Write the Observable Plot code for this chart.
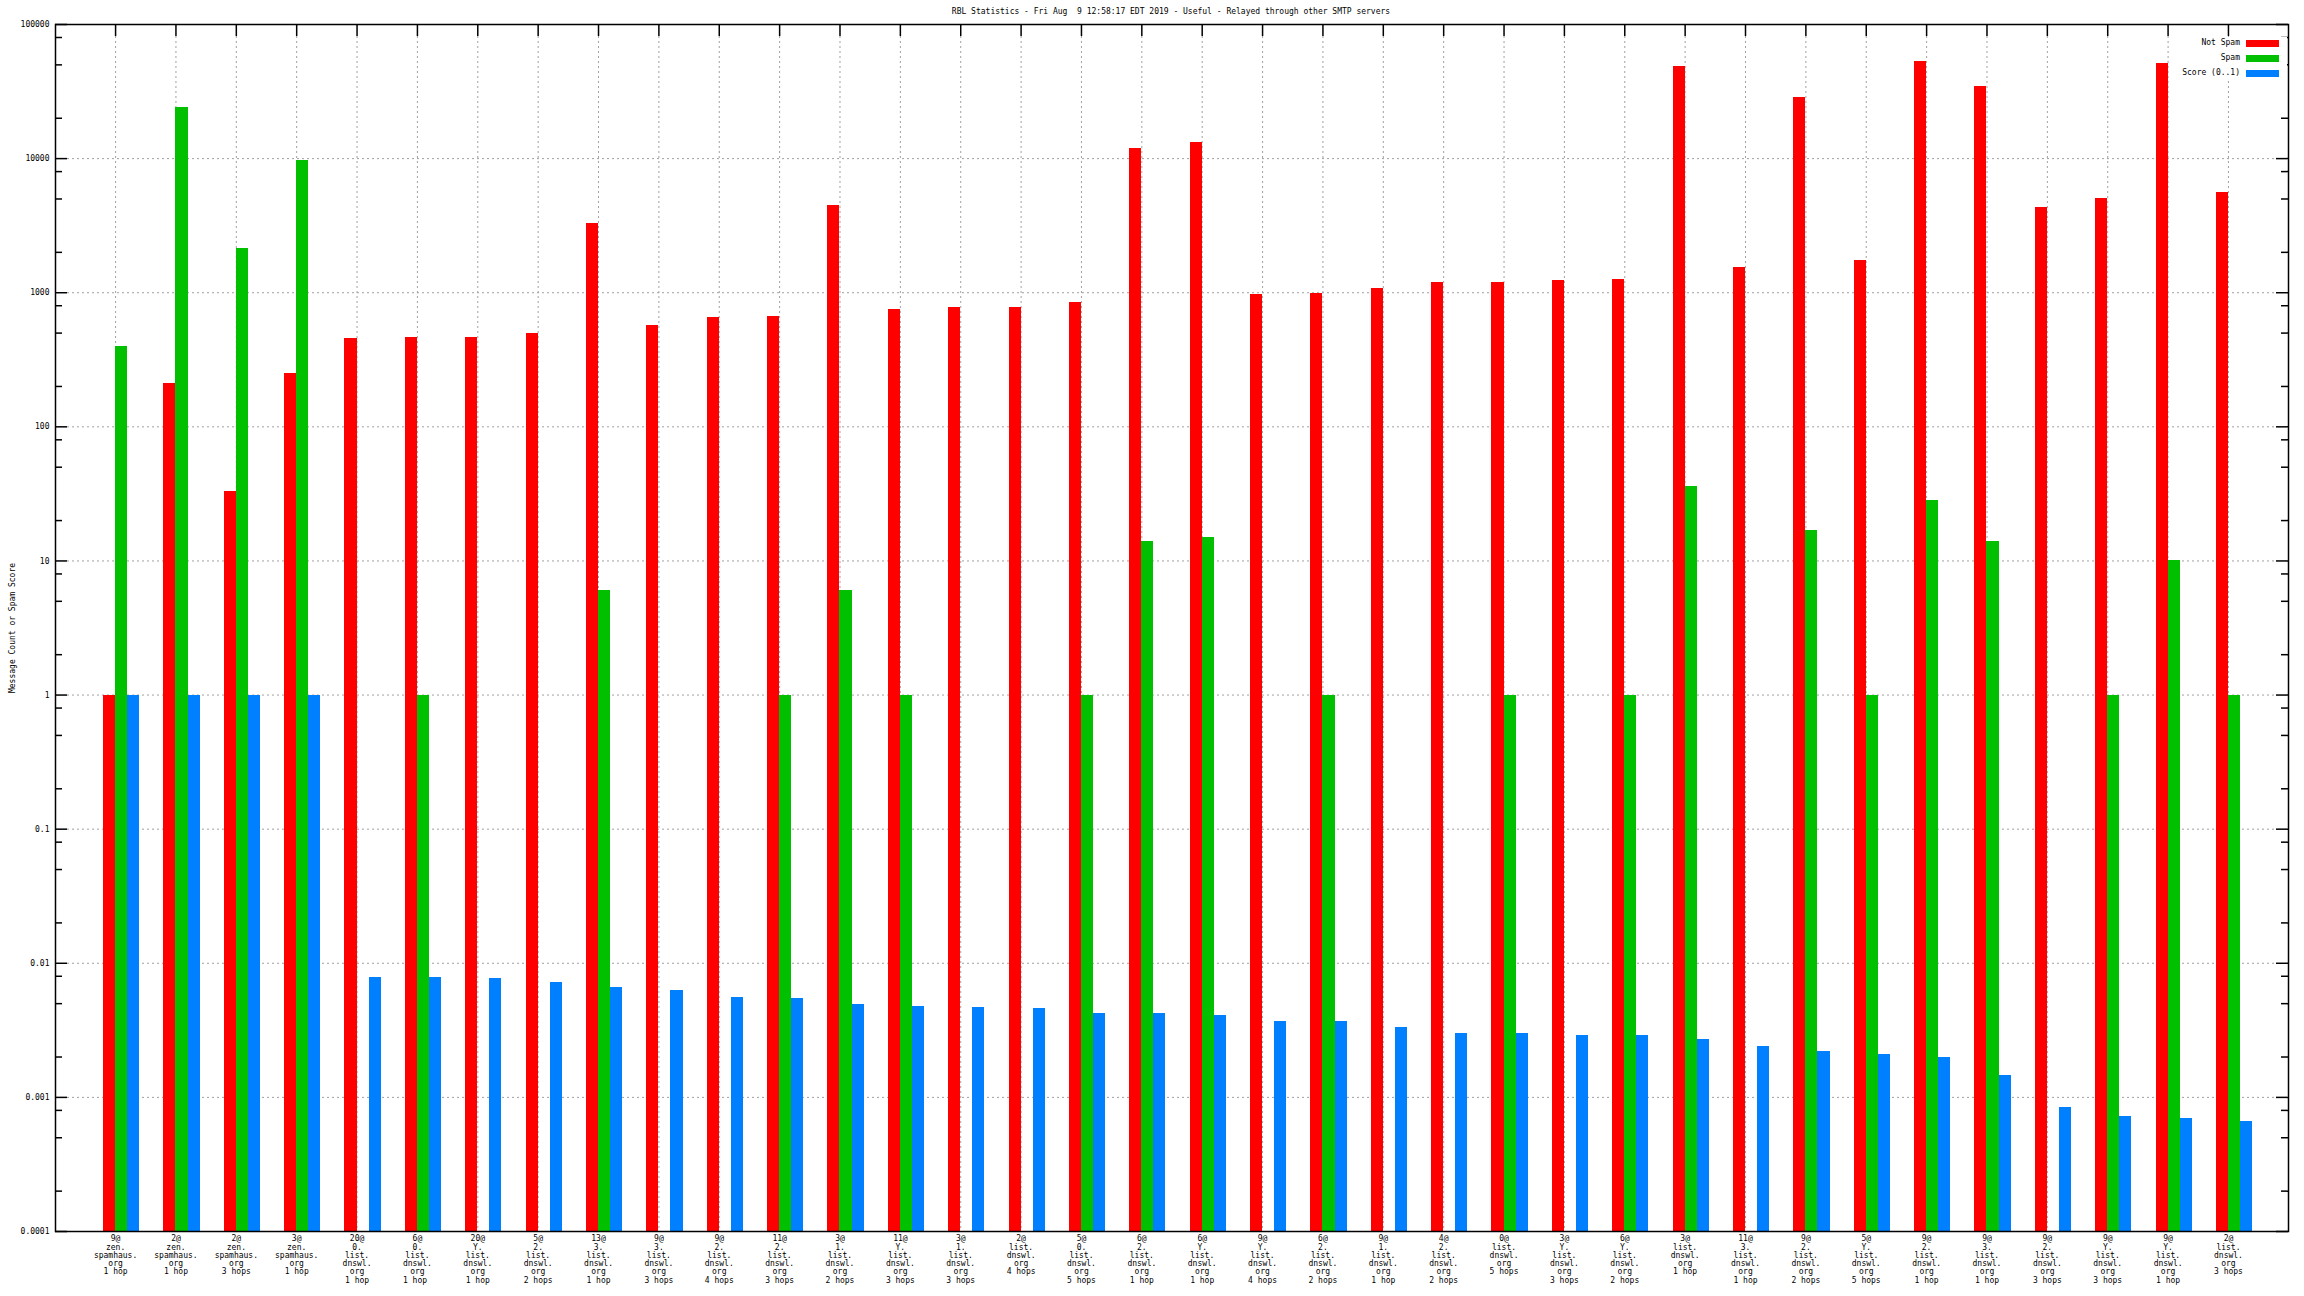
<!DOCTYPE html>
<html><head><meta charset="utf-8">
<script src="https://cdn.jsdelivr.net/npm/d3@7"></script>
<script src="https://cdn.jsdelivr.net/npm/@observablehq/plot@0.6"></script>
<style>
html,body{margin:0;padding:0;background:#fff;}
#wrap{position:relative;width:2304px;height:1296px;font-family:"DejaVu Sans Mono",monospace;font-size:8px;color:#000;}
#title{position:absolute;left:0;top:8px;width:2342px;text-align:center;white-space:pre;line-height:8px;}
#legend{position:absolute;left:2176px;top:37px;width:111px;height:43px;background:#fff;}
.li{position:absolute;right:47px;white-space:pre;line-height:8px;text-align:right;}
.sw{position:absolute;left:70px;width:33px;height:7px;}
</style>
</head><body>
<div id="wrap">
<div id="chart"></div>
<div id="title"></div>
<div id="legend"></div>
</div>
<script>
const categories = [
"9@\nzen.\nspamhaus.\norg\n1 hop",
"2@\nzen.\nspamhaus.\norg\n1 hop",
"2@\nzen.\nspamhaus.\norg\n3 hops",
"3@\nzen.\nspamhaus.\norg\n1 hop",
"20@\n0.\nlist.\ndnswl.\norg\n1 hop",
"6@\n0.\nlist.\ndnswl.\norg\n1 hop ",
"20@\nY.\nlist.\ndnswl.\norg\n1 hop",
"5@\n2.\nlist.\ndnswl.\norg\n2 hops",
"13@\n3.\nlist.\ndnswl.\norg\n1 hop",
"9@\n3.\nlist.\ndnswl.\norg\n3 hops",
"9@\n2.\nlist.\ndnswl.\norg\n4 hops",
"11@\n2.\nlist.\ndnswl.\norg\n3 hops",
"3@\n1.\nlist.\ndnswl.\norg\n2 hops",
"11@\nY.\nlist.\ndnswl.\norg\n3 hops",
"3@\n1.\nlist.\ndnswl.\norg\n3 hops",
"2@\nlist.\ndnswl.\norg\n4 hops",
"5@\n0.\nlist.\ndnswl.\norg\n5 hops",
"6@\n2.\nlist.\ndnswl.\norg\n1 hop",
"6@\nY.\nlist.\ndnswl.\norg\n1 hop",
"9@\nY.\nlist.\ndnswl.\norg\n4 hops",
"6@\n2.\nlist.\ndnswl.\norg\n2 hops",
"9@\n1.\nlist.\ndnswl.\norg\n1 hop",
"4@\n2.\nlist.\ndnswl.\norg\n2 hops",
"0@\nlist.\ndnswl.\norg\n5 hops",
"3@\nY.\nlist.\ndnswl.\norg\n3 hops",
"6@\nY.\nlist.\ndnswl.\norg\n2 hops",
"3@\nlist.\ndnswl.\norg\n1 hop",
"11@\n3.\nlist.\ndnswl.\norg\n1 hop",
"9@\n2.\nlist.\ndnswl.\norg\n2 hops",
"5@\nY.\nlist.\ndnswl.\norg\n5 hops",
"9@\n2.\nlist.\ndnswl.\norg\n1 hop",
"9@\n3.\nlist.\ndnswl.\norg\n1 hop",
"9@\n2.\nlist.\ndnswl.\norg\n3 hops",
"9@\nY.\nlist.\ndnswl.\norg\n3 hops",
"9@\nY.\nlist.\ndnswl.\norg\n1 hop",
"2@\nlist.\ndnswl.\norg\n3 hops"
];
const notSpam = [1,210,33,250,456,464,464,497,3280,569,653,664,4440,750,776,776,846,11900,13100,970,990,1080,1200,1200,1240,1250,48700,1540,28700,1750,52600,34300,4330,5030,51000,5570];
const spam = [395,24000,2140,9700,null,1,null,null,6,null,null,1,6,1,null,null,1,14,15,null,1,null,null,1,null,1,36,null,17,1,28,14,null,1,10,1];
const score = [1,1,1,1,0.0078,0.0078,0.0077,0.0072,0.0066,0.0063,0.0056,0.0055,0.0049,0.0048,0.0047,0.0046,0.0042,0.0042,0.0041,0.0037,0.0037,0.0033,0.0030,0.0030,0.0029,0.0029,0.0027,0.0024,0.0022,0.0021,0.0020,0.00145,0.00084,0.00072,0.00070,0.00066];
const seriesNames = ["Not Spam","Spam","Score (0..1)"];
const seriesColors = ["#ff0000","#00c000","#0080ff"];
const yTicks = [0.0001,0.001,0.01,0.1,1,10,100,1000,10000,100000];
const minorMult = [2,5,8];
const titleText = "RBL Statistics - Fri Aug  9 12:58:17 EDT 2019 - Useful - Relayed through other SMTP servers";
const yLabel = "Message Count or Spam Score";

const W=2304,H=1296,ML=55,MR=16,MT=24,MB=65;
const innerW=W-ML-MR, innerH=H-MT-MB;
const n=categories.length;
const padIn=0.8, padOut=0.895;
const step=innerW/(n-padIn+2*padOut);
const bw=step*(1-padIn);

const table = [notSpam,spam,score].flatMap((arr,s)=>arr.map((v,i)=>({cat:categories[i],series:s,value:v}))).filter(d=>d.value!=null);
const minorTicks = yTicks.flatMap(t=>minorMult.map(m=>m*t)).filter(v=>v<100000);
const innerTicks = yTicks.filter(t=>t>0.0001 && t<100000);
const fmt = d => d>=1 ? String(d) : d.toFixed(Math.round(-Math.log10(d)));
const grid = {stroke:"#a0a0a0", strokeWidth:1, strokeDasharray:"2,3"};

const chart = Plot.plot({
  width:W, height:H,
  marginLeft:ML, marginRight:MR, marginTop:MT, marginBottom:MB,
  style:{fontFamily:"'DejaVu Sans Mono', monospace", fontSize:"8px", background:"white", color:"black"},
  x:{type:"band", domain:categories, paddingInner:padIn, paddingOuter:padOut, align:0.556, round:false},
  y:{type:"log", domain:[0.0001,100000]},
  marks:[
    Plot.ruleX(categories,{x:d=>d, dx:-bw/2, insetTop:12, ...grid}),
    Plot.ruleY(innerTicks,{y:d=>d, insetLeft:12, insetRight:12, ...grid}),
    ...[0,1,2].map(s=>Plot.barY(table.filter(d=>d.series===s),{
      x:"cat", y1:()=>0.0001, y2:"value", fill:seriesColors[s], dx:(s-1)*bw, shapeRendering:"crispEdges"
    })),
    Plot.frame({stroke:"black", strokeWidth:1.5}),
    Plot.tickY(yTicks,{y:d=>d, insetRight:innerW-12, stroke:"black", strokeWidth:1.5}),
    Plot.tickY(yTicks,{y:d=>d, insetLeft:innerW-12, stroke:"black", strokeWidth:1.5}),
    Plot.tickY(minorTicks,{y:d=>d, insetRight:innerW-7, stroke:"black", strokeWidth:1.5}),
    Plot.tickY(minorTicks,{y:d=>d, insetLeft:innerW-7, stroke:"black", strokeWidth:1.5}),
    Plot.ruleX(categories,{x:d=>d, dx:-bw/2, insetBottom:innerH-12, stroke:"black", strokeWidth:1.5}),
    Plot.axisY({ticks:yTicks, tickSize:0, tickPadding:6, tickFormat:fmt, fontSize:8,
      label:yLabel, labelAnchor:"center", labelOffset:46, labelArrow:"none"}),
    Plot.axisX({tickSize:0, tickPadding:4, dx:-bw/2, fontSize:8, lineHeight:1.03, label:null, tickFormat:d=>d})
  ]
});
document.getElementById("chart").appendChild(chart);
document.getElementById("title").textContent = titleText;
const leg = document.getElementById("legend");
seriesNames.forEach((name,i)=>{
  const t=document.createElement("div"); t.className="li"; t.style.top=(2+15*i)+"px"; t.textContent=name; leg.appendChild(t);
  const s=document.createElement("div"); s.className="sw"; s.style.top=(2.5+15*i)+"px"; s.style.background=seriesColors[i]; leg.appendChild(s);
});
</script>
</body></html>
